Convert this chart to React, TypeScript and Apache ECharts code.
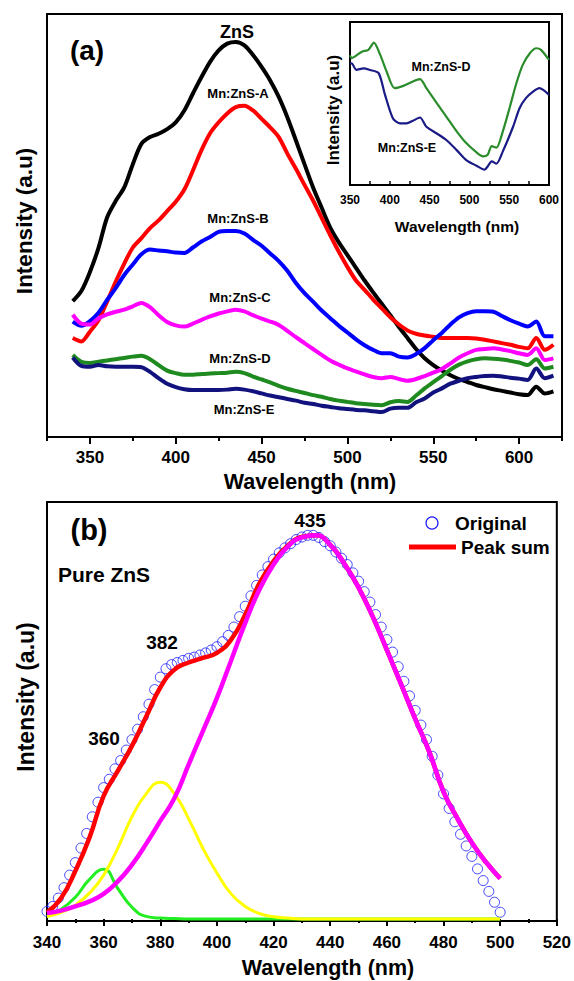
import React, { useEffect, useRef } from 'react';
import * as echarts from 'echarts';

// ---------- Panel (a): PL spectra ----------
const topWavelengths = [340,345,350,355,360,365,370,375,380,385,390,395,400,405,410,415,420,425,430,435,440,445,450,455,460,465,470,475,480,485,490,495,500,505,510,515,520,525,530,535,540,545,550,555,560,565,570,575,580,585,590,595,600,605,610,615,620];
const znsValues = [32.1,34.5,39,44.7,51.9,55.8,59,64.5,69.3,70.9,71.7,72.8,74.4,77.2,81.2,85.1,88.7,91.4,93,93.4,92.6,90.3,87.5,84.3,80.4,75.6,70.1,64.5,59,54.2,49.5,46,43,40,37,34.2,31.5,28.8,26,23.4,20.8,18.6,17,15.7,14.6,13.7,13,12.3,11.8,11.3,10.9,10.5,10.1,9.9,11.9,10.3,10.8];
const mnAValues = [23.4,22.6,24.9,27.6,32,36.7,41,44.8,47,49.4,51.2,53.4,55.6,58.5,63,67.8,71.8,74.4,76.5,78,78.3,77.2,75.2,73.2,70.9,67,63.4,59.6,55.9,51.8,47.7,43.8,40.2,37,34.8,32.5,30.4,28.3,26.6,25.2,24.4,24,23.7,23.4,23.4,23.4,23.4,23.3,23,22.6,22.2,21.8,21.3,21,23.4,20.6,21.8];
const mnBValues = [27.3,26.3,27.4,29.4,32.4,35.2,38.3,40.8,43.2,44.3,44.1,43.9,43.6,43.5,44.8,46.2,47.3,48.5,48.7,48.7,48.1,46.6,45.2,43.4,41.6,39.3,36.4,34,32,29.9,28.1,26.3,24.7,23.1,21.7,20.6,19.8,19.8,19,18.8,19.6,21,22.9,24.6,26.6,28.3,29.3,29.7,29.7,29.6,28.6,27.6,26.8,26.1,27.3,23.8,23.8];
const mnCValues = [28.9,26.8,26.6,28,29,29.6,30.1,30.9,31.7,30.7,28.8,27.2,26.4,26.1,26.8,27.7,28.5,29.2,29.7,30.1,29.7,28.8,28,27.3,26.5,25.1,23.6,22.2,20.8,19.4,18.1,17.1,16.2,15.5,14.8,14.2,13.9,14.2,13.7,13.3,13.7,14.4,15.2,16.1,17.4,18.8,19.8,20.6,20.8,21,20.7,20.3,19.8,19.4,21,18.2,18.6];
const mnDValues = [19.4,17.8,17.5,17.8,18.1,18.4,18.7,19,19.2,18.4,17,15.7,15.1,14.7,14.7,14.9,15,15.1,15.2,15.4,15.1,14.3,13.6,12.9,12.1,11.4,10.9,10.4,9.9,9.5,9,8.6,8.3,8,7.8,7.6,7.5,8.2,8.5,8.3,9.8,11.5,13,14.4,15.9,17.1,17.9,18.4,18.6,18.5,18.3,18,17.6,17,18.4,16.2,16.6];
const mnEValues = [18.8,16.8,16.6,17,16.7,16.6,16.6,16.6,16.5,15.4,13.9,12.6,11.8,11.3,11.1,11.1,11.1,11.1,11.2,11.4,11.2,10.8,10.3,9.8,9.4,9,8.6,8.1,7.8,7.4,7.1,6.8,6.6,6.4,6.3,6.1,5.9,6.7,6.9,6.9,8.2,9.1,10.5,11.5,12.6,13.3,13.9,14.2,14.4,14.5,14.3,14,13.8,13.5,16.2,13.9,14.5];
const topMajorTicks = [350,400,450,500,550,600];
const topMinorTicks = [325,375,425,475,525,575,625];

// ---------- Inset ----------
const insetDX = [350,352,356,365,373,380,388,396,406,417,429,438,446,459,471,484,496,509,517,523,528,534,542,551,559,567,576,584,590,600];
const insetDValues = [79.5,77.8,78.8,81.8,82.9,87.3,79.8,69.6,59.4,60.8,63.5,64.9,59.4,50.2,42,32.9,25.7,20,17.6,18.6,23.9,22.9,32.9,48.2,62.4,73.7,80.8,83.9,82.9,76.7];
const insetEX = [350,352,358,367,375,386,394,404,413,421,429,438,446,459,471,484,496,509,519,523,528,534,542,555,563,571,580,588,600];
const insetEValues = [74.5,74.7,70.6,71.6,70.6,68.6,55.3,40.8,37.8,37.8,39.4,41.4,35.7,31.6,27.6,21.4,15.3,11.8,9.4,11.4,14.5,13.1,20.6,35.9,47.1,53.3,57.3,59.4,55.3];

// ---------- Panel (b): Gaussian fit of pure ZnS ----------
const originalX = [340,342,344,346,348,350,352,354,356,358,360,362,364,366,368,370,372,374,376,378,380,382,384,386,388,390,392,394,396,398,400,402,404,406,408,410,412,414,416,418,420,422,424,426,428,430,432,434,436,438,440,442,444,446,448,450,452,454,456,458,460,462,464,466,468,470,472,474,476,478,480,482,484,486,488,490,492,494,496,498,500];
const originalValues = [1.8,3,5,7.5,10.5,13.5,17,20.5,24.5,28,31.5,33.5,36,38,40.5,43,45.5,48.5,51.5,55,58,60,61,61.5,62,62.5,62.8,63.3,63.8,64.5,65.3,66.5,68,70,72.5,75,77.5,80,82.5,84.5,86.3,87.8,89,90,91,91.6,92,92,91.5,90.5,89.5,88,86.5,85,83,81,78.5,76,73,70,67,64,60.5,57,53.5,50,46.5,43,39,34.5,30,26.5,23.3,20.3,17.5,15,12,9.2,6.6,4,1.6];
const fitX = [340,345,350,355,360,365,370,375,380,385,390,395,400,405,410,415,420,425,430,435,440,445,450,455,460,465,470,475,480,485,490,495,500];
const peakSumValues = [1.5,5,11.5,19.5,29.5,35.5,41.5,48.5,55.5,59.8,61.5,62.6,63.8,67,73,80.5,85.8,89.5,91.6,92,89.7,85.2,79.5,72.5,64.5,56.3,48,40,30.5,24,18.3,13.6,9.7];
const peak360Values = [0.6,2.3,5.2,9.5,11.9,7.3,2.8,0.6,0.2,0.1,0,0,0,0,0,0,0,0,0,0,0,0,0,0,0,0,0,0,0,0,0,0,0];
const peak382Values = [0.6,1.6,3.3,6.2,10.5,17,24.5,30,32.8,30,24,17,11,6,3,1.3,0.5,0.2,0,0,0,0,0,0,0,0,0,0,0,0,0,0,0];
const peak435Values = [1.4,2,3,4.2,6,9,13,18,23.5,29,37,45,53,62,71,79,85,89.3,91.5,92,89.7,85.2,79.5,72.5,64.5,56.3,48,40,30.5,24,18.3,13.6,9.7];

const FONT = '"Liberation Sans", Arial, Helvetica, sans-serif';
const zip = (xs: number[], ys: number[]) => xs.map((x, i) => [x, ys[i]]);

function txt(text: string, x: number, y: number, size: number, opts: any = {}) {
  return {
    type: 'text',
    x,
    y,
    rotation: opts.rotation || 0,
    z: 100,
    style: {
      text,
      fill: '#000',
      font: `bold ${size}px ${FONT}`,
      textAlign: opts.align || 'center',
      textVerticalAlign: 'middle',
    },
  };
}

function topLine(name: string, values: number[], color: string) {
  return {
    name,
    type: 'line',
    xAxisIndex: 0,
    yAxisIndex: 0,
    data: zip(topWavelengths, values),
    showSymbol: false,
    smooth: 0.3,
    lineStyle: { color, width: 4 },
    itemStyle: { color },
  };
}

function insetLine(name: string, xs: number[], values: number[], color: string) {
  return {
    name,
    type: 'line',
    xAxisIndex: 2,
    yAxisIndex: 1,
    data: zip(xs, values),
    showSymbol: false,
    smooth: 0.25,
    lineStyle: { color, width: 2.2 },
    itemStyle: { color },
  };
}

function fitLine(name: string, values: number[], color: string, width: number) {
  return {
    name,
    type: 'line',
    xAxisIndex: 3,
    yAxisIndex: 2,
    data: zip(fitX, values),
    showSymbol: false,
    smooth: 0.5,
    lineStyle: { color, width },
    itemStyle: { color },
    z: 3,
  };
}

const labelStyle = (size: number, margin: number) => ({
  color: '#000',
  fontWeight: 'bold',
  fontSize: size,
  fontFamily: FONT,
  margin,
});

const tickLine = { color: '#000', width: 2 };

export default function App() {
  const ref = useRef<HTMLDivElement>(null);
  useEffect(() => {
    const chart = echarts.init(ref.current!, null, { renderer: 'svg', width: 574, height: 981 });
    const option: any = {
      animation: false,
      backgroundColor: '#fff',
      grid: [
        { left: 47, top: 14, width: 515, height: 423, show: true, borderColor: '#000', borderWidth: 2, backgroundColor: 'transparent' },
        { left: 350, top: 22, width: 199, height: 163, show: true, borderColor: '#000', borderWidth: 2, backgroundColor: '#fff' },
        { left: 47, top: 502, width: 515, height: 419, show: true, borderColor: '#000', borderWidth: 2, backgroundColor: 'transparent' },
      ],
      xAxis: [
        {
          gridIndex: 0, type: 'value', min: 325, max: 625, position: 'bottom',
          axisLine: { show: false },
          axisTick: { show: true, customValues: topMajorTicks, length: 7, lineStyle: tickLine },
          axisLabel: { ...labelStyle(17, 12), customValues: topMajorTicks },
          splitLine: { show: false },
        },
        {
          gridIndex: 0, type: 'value', min: 325, max: 625, position: 'bottom',
          axisLine: { show: false },
          axisTick: { show: true, customValues: topMinorTicks, length: 4, lineStyle: tickLine },
          axisLabel: { show: false },
          splitLine: { show: false },
        },
        {
          gridIndex: 1, type: 'value', min: 350, max: 600, interval: 50, position: 'bottom',
          axisLine: { show: false },
          axisTick: { show: true, inside: true, length: 4, lineStyle: { color: '#000', width: 1.5 } },
          minorTick: { show: true, splitNumber: 2, length: 4, lineStyle: { color: '#000', width: 1.5 } },
          axisLabel: labelStyle(12, 9),
          splitLine: { show: false },
        },
        {
          gridIndex: 2, type: 'value', min: 340, max: 520, interval: 20, position: 'bottom',
          axisLine: { show: false },
          axisTick: { show: true, length: 7, lineStyle: tickLine },
          minorTick: { show: true, splitNumber: 2, length: 4, lineStyle: tickLine },
          axisLabel: labelStyle(17, 13),
          splitLine: { show: false },
        },
      ],
      yAxis: [
        { gridIndex: 0, type: 'value', min: 0, max: 100, show: false },
        { gridIndex: 1, type: 'value', min: 0, max: 100, show: false },
        { gridIndex: 2, type: 'value', min: -0.5, max: 100, show: false },
      ],
      series: [
        topLine('ZnS', znsValues, '#000000'),
        topLine('Mn:ZnS-A', mnAValues, '#ff0000'),
        topLine('Mn:ZnS-B', mnBValues, '#0000ff'),
        topLine('Mn:ZnS-C', mnCValues, '#ff00ff'),
        topLine('Mn:ZnS-D', mnDValues, '#1f8a1f'),
        topLine('Mn:ZnS-E', mnEValues, '#12127f'),
        insetLine('Inset Mn:ZnS-D', insetDX, insetDValues, '#2a8c2a'),
        insetLine('Inset Mn:ZnS-E', insetEX, insetEValues, '#1a1a86'),
        {
          name: 'Original',
          type: 'scatter',
          xAxisIndex: 3,
          yAxisIndex: 2,
          data: zip(originalX, originalValues),
          symbol: 'circle',
          symbolSize: 10,
          z: 2,
          itemStyle: { color: 'rgba(0,0,0,0)', borderColor: '#1a1aff', borderWidth: 1 },
        },
        fitLine('Peak sum', peakSumValues, '#ff0000', 4.5),
        fitLine('Peak 360', peak360Values, '#22ee22', 3),
        fitLine('Peak 382', peak382Values, '#ffff00', 3),
        fitLine('Peak 435', peak435Values, '#ff00ff', 4.5),
      ],
      graphic: [
        txt('(a)', 87, 50, 28),
        txt('ZnS', 237, 32, 18),
        txt('Mn:ZnS-A', 238, 93, 13),
        txt('Mn:ZnS-B', 238, 218, 13),
        txt('Mn:ZnS-C', 240, 297, 13),
        txt('Mn:ZnS-D', 240, 358, 13),
        txt('Mn:ZnS-E', 244, 409, 13),
        txt('Wavelength (nm)', 310, 482, 21.5),
        txt('Intensity (a.u)', 24, 221, 22.5, { rotation: Math.PI / 2 }),
        txt('Mn:ZnS-D', 441, 67, 12.5),
        txt('Mn:ZnS-E', 407, 148, 12.5),
        txt('Wavelength (nm)', 457, 226, 15.5),
        txt('Intensity (a.u)', 333, 110, 17, { rotation: Math.PI / 2 }),
        txt('(b)', 89, 530, 29),
        txt('Pure ZnS', 104, 574, 21),
        txt('435', 310, 520, 19),
        txt('382', 162, 642, 19),
        txt('360', 104, 738, 19),
        {
          type: 'circle', z: 100,
          shape: { cx: 432, cy: 523, r: 6 },
          style: { fill: 'none', stroke: '#1a1aff', lineWidth: 1.2 },
        },
        txt('Original', 455, 523, 19, { align: 'left' }),
        {
          type: 'line', z: 100,
          shape: { x1: 409, y1: 547, x2: 456, y2: 547 },
          style: { stroke: '#ff0000', lineWidth: 5 },
        },
        txt('Peak sum', 461, 547, 19, { align: 'left' }),
        txt('Wavelength (nm)', 328, 968, 21.5),
        txt('Intensity (a.u)', 26, 697, 23, { rotation: Math.PI / 2 }),
      ],
    };
    chart.setOption(option);
    return () => chart.dispose();
  }, []);
  return (
    <div
      ref={ref}
      style={{ position: 'absolute', left: 0, top: 0, width: 574, height: 981, background: '#fff' }}
    />
  );
}
